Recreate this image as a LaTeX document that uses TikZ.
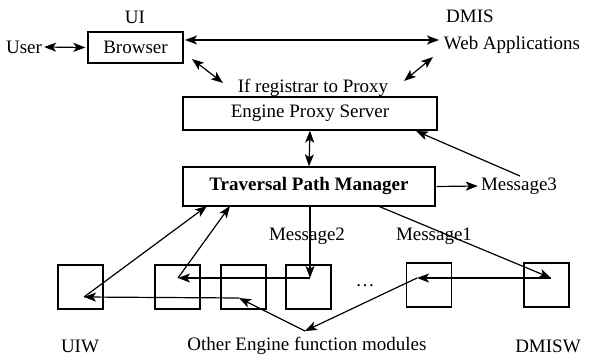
\documentclass[tikz,border=0pt]{standalone}
\usepackage{fontspec}
\setmainfont{Liberation Serif}
\usetikzlibrary{arrows.meta}
\begin{document}
\begin{tikzpicture}[x=1pt,y=-1pt,
  every node/.style={font=\fontsize{19}{21}\selectfont, inner sep=0pt},
  box/.style={draw, line width=1.3pt, inner sep=0pt},
  modbox/.style={box, minimum width=45pt, minimum height=44pt},
  tip/.tip={Stealth[length=12pt,width=9pt,inset=3pt]},
  conn/.style={line width=1.2pt, -tip},
  dconn/.style={line width=1.2pt, tip-tip}]
\useasboundingbox[fill=white] (0,0) rectangle (590,358);

% top boxes
\node[box, minimum width=95pt, minimum height=31pt] (browser) at (135.5,47.5) {Browser};
\node[box, minimum width=254pt, minimum height=33pt] (proxy) at (310,113.5) {Engine Proxy Server};
\node[box, minimum width=252pt, minimum height=39pt] (tpm) at (309,186.5) {\bfseries Traversal Path Manager};

% module row
\node[modbox] (uiw) at (80.5,287) {};
\node[modbox] (m2) at (177.5,287) {};
\node[modbox] (m3) at (243.5,287) {};
\node[modbox] (m4) at (308.5,287) {};
\node[modbox] (m5) at (429,285) {};
\node[modbox] (dmisw) at (546.5,285) {};

% labels
\node (user) at (24,47) {User};
\node (ui) at (135,17) {UI};
\node (dmis) at (470,16) {DMIS};
\node (webapp) at (512,45) {Web Applications};
\node (ifreg) at (313,88) {If registrar to Proxy};
\node (msg3) at (519,186) {Message3};
\node (msg2) at (307,236) {Message2};
\node (msg1) at (434,236) {Message1};
\node (dots) at (365,286) {\dots};
\node (uiwl) at (80,346) {UIW};
\node (other) at (307,346) {Other Engine function modules};
\node (dmiswl) at (548,346) {DMISW};

% connector end points
\coordinate (bwR) at (185,40);
\coordinate (waL) at (439,40);
\coordinate (bwD) at (192,59);
\coordinate (irL) at (223,83);
\coordinate (irR) at (404,81);
\coordinate (waD) at (433,57);
\coordinate (m3tail) at (520,176);
\coordinate (pxhead) at (416,131);
\coordinate (c4) at (310,278);
\coordinate (c2) at (178,278);
\coordinate (t2) at (230,206);
\coordinate (t1) at (207,206);
\coordinate (t5) at (378,206);
\coordinate (cD) at (551,278);
\coordinate (c5) at (417,278);
\coordinate (oth) at (305,331);
\coordinate (c3) at (239,298);
\coordinate (cU) at (84,297);

% top connectors
\draw[dconn] ([xshift=2pt]user.east) -- ([xshift=-2pt]browser.west);
\draw[dconn] (bwR) -- (waL);
\draw[dconn] (bwD) -- (irL);
\draw[dconn] (irR) -- (waD);
\draw[dconn] (proxy.south) -- (tpm.north);
\draw[conn] ([xshift=1pt]tpm.east) -- ([xshift=-3pt]msg3.west);
\draw[conn] (m3tail) -- (pxhead);

% traversal through the modules
\draw[conn] (tpm.south -| c4) -- (c4);
\draw[conn] (c4) -- (c2);
\draw[conn] (c2) -- (t2);
\draw[conn] (t5) -- (cD);
\draw[conn] (cD) -- (c5);
\draw[conn] (c5) -- (oth);
\draw[conn] (oth) -- (c3);
\draw[conn] (c3) -- (cU);
\draw[conn] (cU) -- (t1);
\end{tikzpicture}
\end{document}
